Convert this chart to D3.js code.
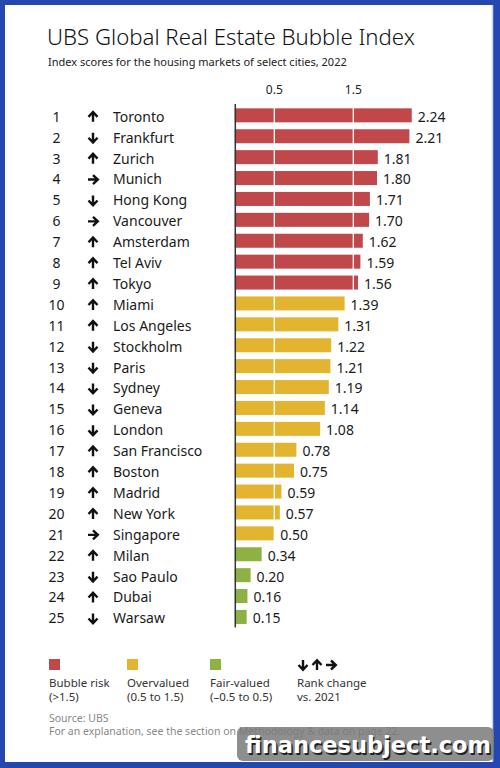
<!DOCTYPE html>
<html>
<head>
<meta charset="utf-8">
<script src="https://cdn.jsdelivr.net/npm/d3@7"></script>
<style>
  body { margin:0; background:#fff; }
  svg { display:block; font-family:"Noto Sans", "Open Sans", sans-serif; }
</style>
</head>
<body>
<div id="chart"></div>
<script>
// data
var ranks = d3.range(1, 26);
var cities = ["Toronto","Frankfurt","Zurich","Munich","Hong Kong","Vancouver","Amsterdam","Tel Aviv","Tokyo","Miami","Los Angeles","Stockholm","Paris","Sydney","Geneva","London","San Francisco","Boston","Madrid","New York","Singapore","Milan","Sao Paulo","Dubai","Warsaw"];
var scores = [2.24,2.21,1.81,1.80,1.71,1.70,1.62,1.59,1.56,1.39,1.31,1.22,1.21,1.19,1.14,1.08,0.78,0.75,0.59,0.57,0.50,0.34,0.20,0.16,0.15];
var changes = ["up","down","up","same","down","same","up","up","up","up","up","down","down","down","down","down","up","up","up","up","same","up","down","up","down"];
var ticks = [0.5, 1.5];
var legendItems = [
  {label:"Bubble risk", range:"(>1.5)", color:"#c0474a"},
  {label:"Overvalued", range:"(0.5 to 1.5)", color:"#e3b42f"},
  {label:"Fair-valued", range:"(\u20130.5 to 0.5)", color:"#8db243"}
];

var W = 500, H = 768;
var arrowRot = {up:0, down:180, same:90};

function colorOf(v){
  if(v > 1.5) return legendItems[0].color;
  if(v >= 0.5) return legendItems[1].color;
  return legendItems[2].color;
}

// bold arrow, drawn pointing up then rotated
function drawArrow(sel, cx, cy, dir, s){
  sel.append("path")
    .attr("d", "M0," + (5*s) + "L0," + (-4.5*s) + "M" + (-4.5*s) + ",0L0," + (-4.8*s) + "L" + (4.5*s) + ",0")
    .attr("transform", "translate(" + cx + "," + cy + ") rotate(" + arrowRot[dir] + ")")
    .attr("fill", "none").attr("stroke", "#111").attr("stroke-width", 2.4*s)
    .attr("stroke-linejoin", "miter");
}

var svg = d3.select("#chart").append("svg")
    .attr("width", W).attr("height", H);

// frame
svg.append("rect").attr("width", W).attr("height", H).attr("fill", "#2448b0");
svg.append("rect").attr("x", 5).attr("y", 5).attr("width", W-12).attr("height", H-11)
   .attr("fill", "#fff");
svg.append("line").attr("x1", W-7.5).attr("x2", W-7.5).attr("y1", 5).attr("y2", H-6)
   .attr("stroke", "#c9d3ef").attr("stroke-width", 1.5);

// title
svg.append("text").attr("x", 47).attr("y", 45)
   .attr("font-size", 22.2).attr("fill", "#111").attr("font-weight", 300)
   .text("UBS Global Real Estate Bubble Index");
svg.append("text").attr("x", 48).attr("y", 66)
   .attr("font-size", 11).attr("fill", "#222")
   .text("Index scores for the housing markets of select cities, 2022");

var x = d3.scaleLinear().domain([0, 1]).range([234.8, 313.8]);
var y = d3.scaleBand().domain(cities).range([104.9, 627.4])
    .paddingInner(0.33).paddingOuter(0.165);

var g = svg.append("g");

// bars
g.selectAll(".bar").data(scores).enter().append("rect")
  .attr("class", "bar")
  .attr("x", x(0))
  .attr("y", function(d,i){ return y(cities[i]); })
  .attr("width", function(d){ return x(d) - x(0); })
  .attr("height", y.bandwidth())
  .attr("fill", function(d){ return colorOf(d); });

// white gridlines through bars
g.selectAll(".grid").data(ticks).enter().append("line")
  .attr("x1", function(d){ return x(d); }).attr("x2", function(d){ return x(d); })
  .attr("y1", y.range()[0]).attr("y2", y.range()[1])
  .attr("stroke", "#fff").attr("stroke-width", 1.3);

// tick labels
g.selectAll(".tick").data(ticks).enter().append("text")
  .attr("x", function(d){ return x(d); }).attr("y", 94)
  .attr("text-anchor", "middle").attr("font-size", 12).attr("fill", "#222")
  .text(function(d){ return d3.format(".1f")(d); });

// zero axis
g.append("line").attr("x1", x(0)+0.5).attr("x2", x(0)+0.5)
  .attr("y1", y.range()[0]-1).attr("y2", y.range()[1])
  .attr("stroke", "#333").attr("stroke-width", 1.5);

function cy(i){ return y(cities[i]) + y.bandwidth()/2 + 1.5; }

// value labels
g.selectAll(".val").data(scores).enter().append("text")
  .attr("x", function(d){ return x(d) + 6; })
  .attr("y", function(d,i){ return cy(i); })
  .attr("dy", "0.35em").attr("font-size", 14).attr("fill", "#1a1a1a")
  .text(function(d){ return d3.format(".2f")(d); });

// ranks
g.selectAll(".rank").data(ranks).enter().append("text")
  .attr("x", 56.5).attr("y", function(d,i){ return cy(i); })
  .attr("dy", "0.35em").attr("text-anchor", "middle")
  .attr("font-size", 14).attr("fill", "#1a1a1a")
  .text(function(d){ return d; });

// arrows
var ag = g.append("g");
changes.forEach(function(d,i){ drawArrow(ag, 93, cy(i), d, 1); });

// city names
g.selectAll(".city").data(cities).enter().append("text")
  .attr("x", 113).attr("y", function(d,i){ return cy(i); })
  .attr("dy", "0.35em").attr("font-size", 14).attr("fill", "#1a1a1a")
  .text(function(d){ return d; });

// legend
var lx = [49, 127, 210];
var lg = svg.append("g");
legendItems.forEach(function(d,i){
  lg.append("rect").attr("x", lx[i]).attr("y", 659).attr("width", 11).attr("height", 11)
    .attr("fill", d.color);
  lg.append("text").attr("x", lx[i]).attr("y", 687).attr("font-size", 11.5).attr("fill", "#333").text(d.label);
  lg.append("text").attr("x", lx[i]).attr("y", 701).attr("font-size", 11.5).attr("fill", "#333").text(d.range);
});
["down","up","same"].forEach(function(d,i){ drawArrow(lg, 303 + i*14, 665, d, 1); });
lg.append("text").attr("x", 297).attr("y", 687).attr("font-size", 11.5).attr("fill", "#333").text("Rank change");
lg.append("text").attr("x", 297).attr("y", 701).attr("font-size", 11.5).attr("fill", "#333").text("vs. 2021");

// footer
svg.append("text").attr("x", 49).attr("y", 722).attr("font-size", 10.5).attr("fill", "#888").text("Source: UBS");
svg.append("text").attr("x", 49).attr("y", 735).attr("font-size", 10.5).attr("fill", "#888")
   .text("For an explanation, see the section on Methodology & data on page 22.");

// watermark
var wm = svg.append("g");
wm.append("rect").attr("x", 237).attr("y", 727).attr("width", 257).attr("height", 34).attr("rx", 6)
  .attr("fill", "#7a7a7a").attr("fill-opacity", 0.85);
wm.append("text").attr("x", 368).attr("y", 753).attr("text-anchor", "middle")
  .attr("font-family", "DejaVu Sans").attr("font-weight", "bold").attr("font-size", 22.5)
  .attr("fill", "#222").attr("transform", "translate(1.5,1.5)")
  .text("financesubject.com");
wm.append("text").attr("x", 368).attr("y", 753).attr("text-anchor", "middle")
  .attr("font-family", "DejaVu Sans").attr("font-weight", "bold").attr("font-size", 22.5)
  .attr("fill", "#fff")
  .text("financesubject.com");
</script>
</body>
</html>
